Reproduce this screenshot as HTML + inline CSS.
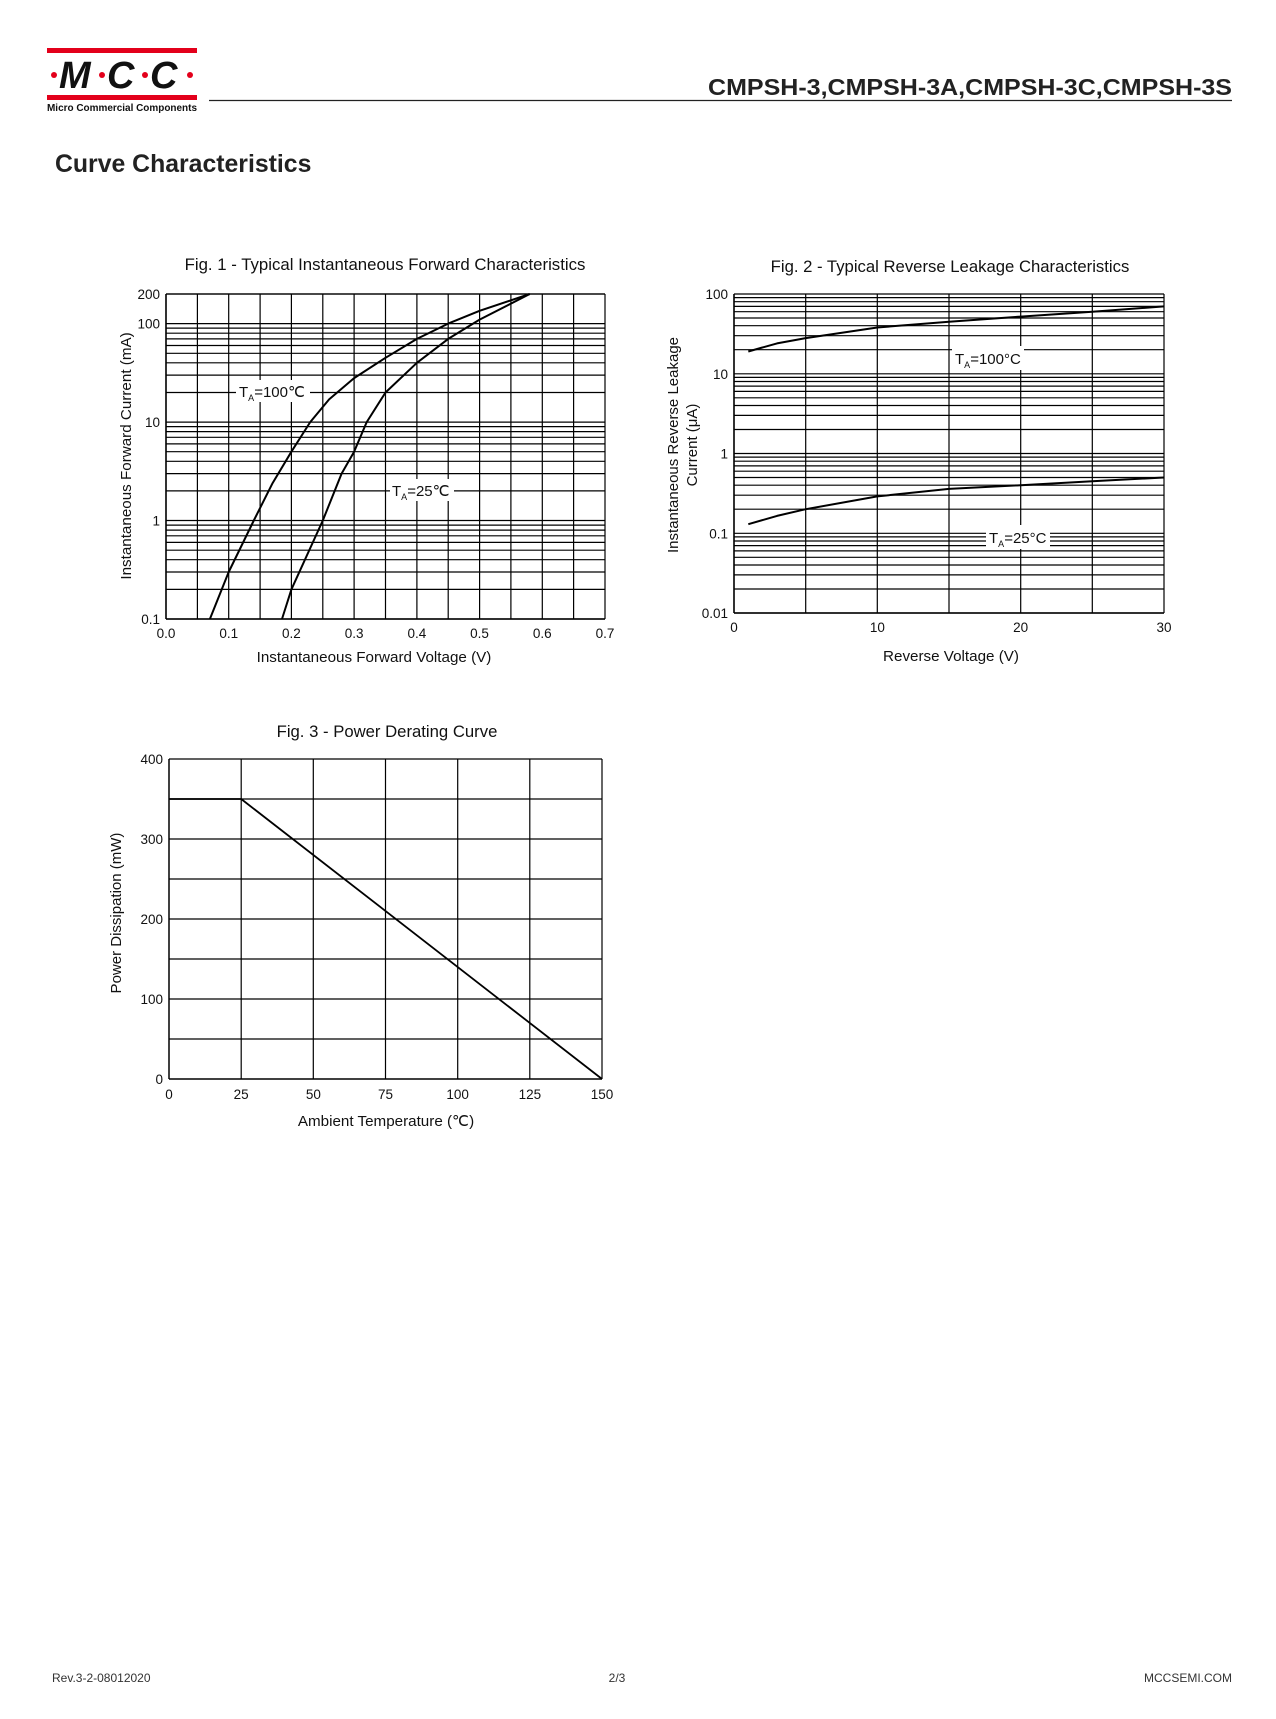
<!DOCTYPE html>
<html><head><meta charset="utf-8">
<style>
html,body{margin:0;padding:0;background:#fff;}
body{width:1276px;height:1719px;overflow:hidden;font-family:"Liberation Sans",sans-serif;}
svg{display:block}
</style></head>
<body>
<svg id="s" width="1276" height="1719" viewBox="0 0 1276 1719" xmlns="http://www.w3.org/2000/svg" font-family="Liberation Sans, sans-serif">
<rect x="0" y="0" width="1276" height="1719" fill="#fff"/>
<rect x="47" y="48" width="150" height="5" fill="#e3001b"/>
<rect x="47" y="95" width="150" height="5" fill="#e3001b"/>
<text x="59" y="88" font-size="38" font-weight="bold" font-style="italic" fill="#111">M</text>
<text x="107" y="88" font-size="38" font-weight="bold" font-style="italic" fill="#111">C</text>
<text x="150" y="88" font-size="38" font-weight="bold" font-style="italic" fill="#111">C</text>
<circle cx="54" cy="75" r="3" fill="#e3001b"/>
<circle cx="102" cy="75" r="3" fill="#e3001b"/>
<circle cx="145" cy="75" r="3" fill="#e3001b"/>
<circle cx="190" cy="75" r="3" fill="#e3001b"/>
<text x="47" y="111" font-size="10.5" font-weight="bold" fill="#111" textLength="150" lengthAdjust="spacingAndGlyphs">Micro Commercial Components</text>
<line x1="209" y1="100.5" x2="1232" y2="100.5" stroke="#222" stroke-width="1.3"/>
<text x="1232" y="95" font-size="23" font-weight="bold" text-anchor="end" fill="#222" textLength="524" lengthAdjust="spacingAndGlyphs">CMPSH-3,CMPSH-3A,CMPSH-3C,CMPSH-3S</text>
<text x="55" y="172" font-size="24.8" font-weight="bold" fill="#222">Curve Characteristics</text>
<text x="52" y="1682" font-size="12" fill="#333">Rev.3-2-08012020</text>
<text x="617" y="1682" font-size="12" fill="#333" text-anchor="middle">2/3</text>
<text x="1232" y="1682" font-size="12" fill="#333" text-anchor="end">MCCSEMI.COM</text>
<g id="g"></g>
</svg>
<script>
var g=document.getElementById('g'),h='';
function L(x1,y1,x2,y2,w){h+='<line x1="'+x1.toFixed(1)+'" y1="'+y1.toFixed(1)+'" x2="'+x2.toFixed(1)+'" y2="'+y2.toFixed(1)+'" stroke="#000" stroke-width="'+(w||1.2)+'"/>';}
function T(x,y,s,sz,a,extra){h+='<text x="'+x+'" y="'+y+'" font-size="'+sz+'" text-anchor="'+(a||'middle')+'" fill="#111" '+(extra||'')+'>'+s+'</text>';}
function P(pts,w){h+='<polyline fill="none" stroke="#000" stroke-width="'+(w||2)+'" stroke-linejoin="round" points="'+pts.map(function(p){return p[0].toFixed(1)+','+p[1].toFixed(1)}).join(' ')+'"/>';}
function lg(v){return Math.log(v)/Math.LN10;}
var L1=166,R1=605,T1=294,B1=619,D1=(B1-T1)/3.30103;
function x1(v){return L1+v/0.7*(R1-L1);} function y1(i){return B1-(lg(i)+1)*D1;}
for(var d=-1;d<=2;d++)for(var k=1;k<=9;k++){var v=k*Math.pow(10,d);if(v>200)break;L(L1,y1(v),R1,y1(v));}
L(L1,T1,R1,T1);
for(var v=0;v<=0.7001;v+=0.05)L(x1(v),T1,x1(v),B1);
L(L1,T1,L1,B1,1.5);L(L1,B1,R1,B1,1.5);
[[0.1,'0.1'],[1,'1'],[10,'10'],[100,'100'],[200,'200']].forEach(function(a){T(L1-6,y1(a[0])+5,a[1],13.5,'end');});
for(var i=0;i<=7;i++)T(x1(i/10),638,(i/10).toFixed(1),13.5);
T(385,270,'Fig. 1 - Typical Instantaneous Forward Characteristics',16.8);
T(374,662,'Instantaneous Forward Voltage (V)',15.2);
T(0,0,'Instantaneous Forward Current (mA)',15.2,'middle','transform="translate(131,456) rotate(-90)"');
function cv(arr,fx,fy){return arr.map(function(p){return [fx(p[0]),fy(p[1])];});}
P(cv([[0.07,0.1],[0.1,0.3],[0.14,1],[0.17,2.4],[0.2,5],[0.23,10],[0.26,17],[0.3,28],[0.35,45],[0.4,70],[0.45,100],[0.5,135],[0.58,200]],x1,y1));
P(cv([[0.185,0.1],[0.2,0.2],[0.25,1],[0.28,3],[0.3,5],[0.32,10],[0.35,20],[0.4,40],[0.45,70],[0.5,110],[0.58,200]],x1,y1));
h+='<rect x="236" y="380" width="74" height="22" fill="#fff"/>';
T(239,397,'T<tspan font-size="9" dy="4">A</tspan><tspan dy="-4">=100℃</tspan>',15,'start');
h+='<rect x="390" y="479" width="64" height="22" fill="#fff"/>';
T(392,496,'T<tspan font-size="9" dy="4">A</tspan><tspan dy="-4">=25℃</tspan>',15,'start');
var L2=734,R2=1164,T2=294,B2=613,D2=(B2-T2)/4;
function x2(v){return L2+v/30*(R2-L2);} function y2(i){return B2-(lg(i)+2)*D2;}
for(var d=-2;d<=1;d++)for(var k=1;k<=9;k++)L(L2,y2(k*Math.pow(10,d)),R2,y2(k*Math.pow(10,d)));
L(L2,T2,R2,T2);
for(var v=0;v<=30;v+=5)L(x2(v),T2,x2(v),B2);
L(L2,T2,L2,B2,1.5);L(L2,B2,R2,B2,1.5);
[[0.01,'0.01'],[0.1,'0.1'],[1,'1'],[10,'10'],[100,'100']].forEach(function(a){T(L2-6,y2(a[0])+5,a[1],13.5,'end');});
[0,10,20,30].forEach(function(v){T(x2(v),632,v,13.5);});
T(950,272,'Fig. 2 - Typical Reverse Leakage Characteristics',16.7);
T(951,661,'Reverse Voltage (V)',15.2);
T(0,0,'Instantaneous Reverse Leakage',15,'middle','transform="translate(678,445) rotate(-90)"');
T(0,0,'Current (μA)',15,'middle','transform="translate(697,445) rotate(-90)"');
P(cv([[1,19],[3,24],[5,28],[10,38],[15,45],[20,52],[25,60],[30,70]],x2,y2));
P(cv([[1,0.13],[3,0.165],[5,0.2],[10,0.29],[15,0.36],[20,0.4],[25,0.45],[30,0.5]],x2,y2));
h+='<rect x="952" y="346" width="72" height="24" fill="#fff"/>';
T(955,364,'T<tspan font-size="9" dy="4">A</tspan><tspan dy="-4">=100°C</tspan>',15,'start');
h+='<rect x="986" y="525" width="64" height="24" fill="#fff"/>';
T(989,543,'T<tspan font-size="9" dy="4">A</tspan><tspan dy="-4">=25°C</tspan>',15,'start');
var L3=169,R3=602,T3=759,B3=1079;
function x3(v){return L3+v/150*(R3-L3);} function y3(p){return B3-p/400*(B3-T3);}
for(var p=50;p<=400;p+=50)L(L3,y3(p),R3,y3(p));
for(var v=25;v<=150;v+=25)L(x3(v),T3,x3(v),B3);
L(L3,T3,L3,B3,1.5);L(L3,B3,R3,B3,1.5);
for(var p=0;p<=400;p+=100)T(L3-6,y3(p)+5,p,13.5,'end');
for(var v=0;v<=150;v+=25)T(x3(v),1099,v,13.5);
T(387,737,'Fig. 3 - Power Derating Curve',16.7);
T(386,1126,'Ambient Temperature (℃)',15.2);
T(0,0,'Power Dissipation  (mW)',15,'middle','transform="translate(121,913) rotate(-90)"');
P([[x3(0),y3(350)],[x3(25),y3(350)],[x3(150),y3(0)]],1.8);
g.innerHTML=h;
</script>
</body></html>
